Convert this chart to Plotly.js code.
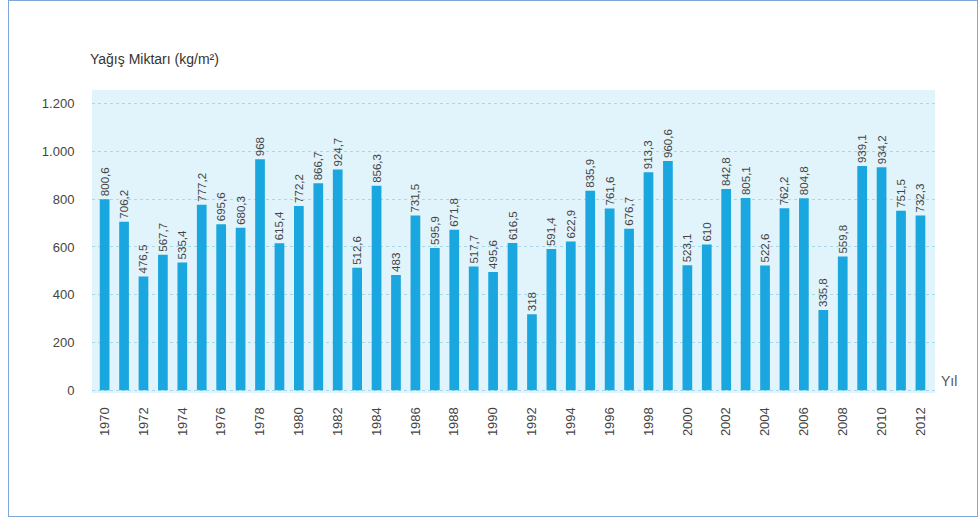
<!DOCTYPE html>
<html>
<head>
<meta charset="utf-8">
<script src="https://cdn.plot.ly/plotly-3.0.1.min.js"></script>
<style>
  html, body { margin: 0; padding: 0; background: #ffffff; }
  #chart { width: 979px; height: 519px; position: relative; }
  #frame { position: absolute; left: 8px; top: 0px; width: 968px; height: 515px;
           border: 1px solid #7ea7d8; pointer-events: none; }
</style>
</head>
<body>
<div style="position:relative;width:979px;height:519px;">
  <div id="chart"></div>
  <div id="frame"></div>
</div>
<script>
const years = [1970,1971,1972,1973,1974,1975,1976,1977,1978,1979,1980,1981,1982,1983,1984,1985,1986,1987,1988,1989,1990,1991,1992,1993,1994,1995,1996,1997,1998,1999,2000,2001,2002,2003,2004,2005,2006,2007,2008,2009,2010,2011,2012];
const rainfall = [800.6,706.2,476.5,567.7,535.4,777.2,695.6,680.3,968,615.4,772.2,866.7,924.7,512.6,856.3,483,731.5,595.9,671.8,517.7,495.6,616.5,318,591.4,622.9,835.9,761.6,676.7,913.3,960.6,523.1,610,842.8,805.1,522.6,762.2,804.8,335.8,559.8,939.1,934.2,751.5,732.3];
const yTickVals = [0,200,400,600,800,1000,1200];
const yTickText = ['0','200','400','600','800','1.000','1.200'];
const yAxisLabel = 'Yağış Miktarı (kg/m²)';
const xAxisLabel = 'Yıl';

const labels = rainfall.map(v => String(v).replace('.', ','));
const font = 'Liberation Sans, Arial, sans-serif';

const trace = {
  type: 'bar',
  x: years,
  y: rainfall,
  text: labels,
  textposition: 'outside',
  textangle: -90,
  constraintext: 'none',
  textfont: { family: font, size: 11.5, color: '#444444' },
  cliponaxis: false,
  marker: { color: '#1aa6df' },
  hoverinfo: 'x+y'
};

const layout = {
  width: 979, height: 519,
  margin: { l: 92, r: 44, t: 90, b: 126 },
  paper_bgcolor: 'rgba(0,0,0,0)',
  plot_bgcolor: '#e1f3fb',
  bargap: 0.5,
  showlegend: false,
  font: { family: font, color: '#444444' },
  xaxis: {
    type: 'linear',
    range: [1969.35, 2012.75],
    tickmode: 'linear', tick0: 1970, dtick: 2,
    tickangle: -90,
    tickfont: { size: 13, color: '#444444' },
    showgrid: false, zeroline: false, showline: false,
    ticks: 'outside', ticklen: 8, tickcolor: 'rgba(0,0,0,0)'
  },
  yaxis: {
    range: [-12, 1258],
    tickmode: 'array', tickvals: yTickVals, ticktext: yTickText,
    tickfont: { size: 13, color: '#444444' },
    showgrid: true, gridcolor: '#a9d8ea', griddash: 'dot', gridwidth: 1,
    zeroline: false, showline: false,
    ticks: 'outside', ticklen: 14, tickcolor: 'rgba(0,0,0,0)'
  },
  annotations: [
    { text: yAxisLabel, xref: 'paper', yref: 'paper', x: -0.005, y: 1.07,
      xanchor: 'left', yanchor: 'bottom', showarrow: false,
      font: { size: 14, color: '#333333', family: font } },
    { text: xAxisLabel, xref: 'paper', yref: 'y', x: 1.005, y: 40,
      xanchor: 'left', yanchor: 'middle', showarrow: false,
      font: { size: 14, color: '#555555', family: font } }
  ]
};

Plotly.newPlot('chart', [trace], layout, { displayModeBar: false, staticPlot: true });
</script>
</body>
</html>
